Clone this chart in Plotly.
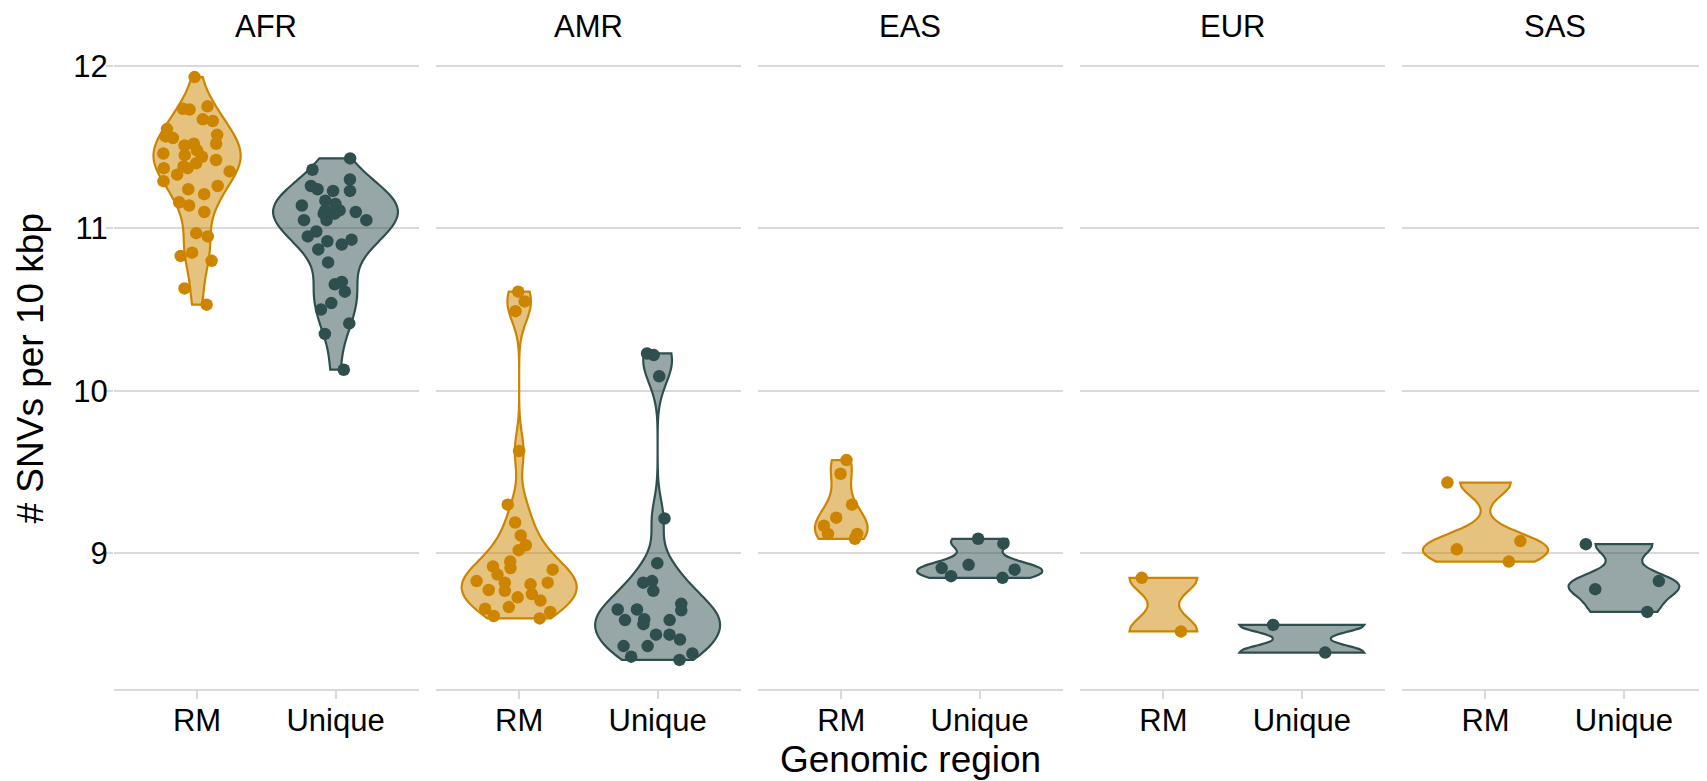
import numpy as np
import plotly.graph_objects as go
from plotly.subplots import make_subplots

populations = ["AFR", "AMR", "EAS", "EUR", "SAS"]
regions = ["RM", "Unique"]

# SNVs per 10 kbp
afr_rm = [11.93, 11.75, 11.73, 11.735, 11.67, 11.66, 11.61, 11.575, 11.565, 11.555,
          11.52, 11.52, 11.51, 11.46, 11.48, 11.45, 11.44, 11.42, 11.40, 11.38,
          11.37, 11.37, 11.35, 11.33, 11.29, 11.26, 11.24, 11.21, 11.16, 11.14,
          11.10, 10.97, 10.95, 10.85, 10.80, 10.83, 10.63, 10.53]
afr_unique = [11.43, 11.36, 11.30, 11.26, 11.23, 11.24, 11.23, 11.17, 11.15, 11.14,
              11.11, 11.11, 11.10, 11.09, 11.09, 11.05, 11.05, 11.05, 10.98, 10.95,
              10.92, 10.93, 10.90, 10.87, 10.79, 10.655, 10.67, 10.61, 10.54, 10.50,
              10.415, 10.35, 10.13]
amr_rm = [10.61, 10.55, 10.49, 9.63, 9.30, 9.19, 9.11, 9.05, 9.02, 8.95,
          8.90, 8.92, 8.91, 8.87, 8.83, 8.82, 8.82, 8.81, 8.775, 8.77,
          8.75, 8.73, 8.71, 8.66, 8.67, 8.64, 8.615, 8.60]
amr_unique = [10.22, 10.23, 10.09, 9.215, 8.94, 8.83, 8.82, 8.77, 8.69, 8.65,
              8.655, 8.655, 8.59, 8.59, 8.595, 8.565, 8.50, 8.50, 8.47, 8.43,
              8.43, 8.385, 8.365, 8.345]
eas_rm = [9.574, 9.49, 9.30, 9.22, 9.17, 9.12, 9.09, 9.12]
eas_unique = [9.09, 9.06, 8.93, 8.91, 8.90, 8.86, 8.85]
eur_rm = [8.85, 8.52]
eur_unique = [8.56, 8.39]
sas_rm = [9.436, 9.076, 9.025, 8.95]
sas_unique = [9.057, 8.83, 8.78, 8.64]

data = {
    "AFR": {"RM": afr_rm, "Unique": afr_unique},
    "AMR": {"RM": amr_rm, "Unique": amr_unique},
    "EAS": {"RM": eas_rm, "Unique": eas_unique},
    "EUR": {"RM": eur_rm, "Unique": eur_unique},
    "SAS": {"RM": sas_rm, "Unique": sas_unique},
}

y_ticks = [9, 10, 11, 12]

# styles
line_col = {"RM": "#CD8500", "Unique": "#2F4F4F"}
fill_col = {"RM": "rgba(205,133,0,0.5)", "Unique": "rgba(47,79,79,0.5)"}
violin_width = {
    "AFR": {"RM": 0.63, "Unique": 0.9},
    "AMR": {"RM": 0.83, "Unique": 0.9},
    "EAS": {"RM": 0.38, "Unique": 0.9},
    "EUR": {"RM": 0.49, "Unique": 0.9},
    "SAS": {"RM": 0.9, "Unique": 0.8},
}
FONT = "Liberation Sans, Arial, Helvetica, sans-serif"
GRID = "#D9D9D9"


def bw_nrd0(x):
    x = np.asarray(x, dtype=float)
    hi = np.std(x, ddof=1)
    q75, q25 = np.percentile(x, [75, 25])
    lo = min(hi, (q75 - q25) / 1.34)
    if not lo > 0:
        lo = hi if hi > 0 else (abs(x[0]) if x[0] != 0 else 1.0)
    return 0.9 * lo * len(x) ** (-0.2)


hspace = 0.011
fig = make_subplots(rows=1, cols=5, shared_yaxes=True, horizontal_spacing=hspace)

for i, pop in enumerate(populations):
    for reg in regions:
        vals = data[pop][reg]
        w = violin_width[pop][reg]
        fig.add_trace(
            go.Violin(
                x=[reg] * len(vals),
                y=vals,
                name=reg,
                spanmode="hard",
                bandwidth=bw_nrd0(vals),
                scalemode="width",
                width=w,
                points="all",
                pointpos=0,
                jitter=min(1.0, 0.65 / w),
                marker=dict(size=12.5, color=line_col[reg], line=dict(width=0)),
                line=dict(color=line_col[reg], width=2.2),
                fillcolor=fill_col[reg],
                box_visible=False,
                meanline_visible=False,
                hoverinfo="y",
                showlegend=False,
            ),
            row=1, col=i + 1,
        )

fig.update_xaxes(
    type="category",
    categoryorder="array",
    categoryarray=regions,
    range=[-0.6, 1.6],
    showgrid=False,
    zeroline=False,
    showline=True,
    linecolor=GRID,
    linewidth=1.6,
    ticks="outside",
    ticklen=8,
    tickwidth=1.6,
    tickcolor=GRID,
    ticklabelstandoff=-5,
    tickfont=dict(family=FONT, size=31, color="#000000"),
)
fig.update_yaxes(
    range=[8.166, 12.109],
    tickvals=y_ticks,
    ticktext=[str(t) for t in y_ticks],
    showgrid=True,
    gridcolor=GRID,
    gridwidth=1.6,
    zeroline=False,
    showline=False,
    ticks="outside",
    ticklen=7,
    tickwidth=1.6,
    tickcolor=GRID,
    ticklabelstandoff=-8,
    tickfont=dict(family=FONT, size=31, color="#000000"),
)
for c in range(2, 6):
    fig.update_yaxes(ticks="", row=1, col=c)

annotations = []
for i, pop in enumerate(populations):
    xa = fig.layout["xaxis" if i == 0 else f"xaxis{i + 1}"]
    d0, d1 = xa.domain
    annotations.append(dict(
        text=pop, x=(d0 + d1) / 2, y=1.0333, xref="paper", yref="paper",
        xanchor="center", yanchor="middle", showarrow=False,
        font=dict(family=FONT, size=31, color="#000000"),
    ))
annotations.append(dict(
    text="Genomic region", x=0.5, y=-0.1105, xref="paper", yref="paper",
    xanchor="center", yanchor="middle", showarrow=False,
    font=dict(family=FONT, size=37, color="#000000"),
))
annotations.append(dict(
    text="# SNVs per 10 kbp", x=-0.0527, y=0.5, xref="paper", yref="paper",
    xanchor="center", yanchor="middle", showarrow=False, textangle=-90,
    font=dict(family=FONT, size=37, color="#000000"),
))

# the page body adds an 8 px offset; size the figure so the plot area lands where it should
fig.update_layout(
    width=1699, height=773,
    margin=dict(l=106, r=0, t=40, b=92),
    paper_bgcolor="white", plot_bgcolor="white",
    violinmode="overlay",
    showlegend=False,
    annotations=annotations,
    font=dict(family=FONT),
)

fig.write_html("out.html")
